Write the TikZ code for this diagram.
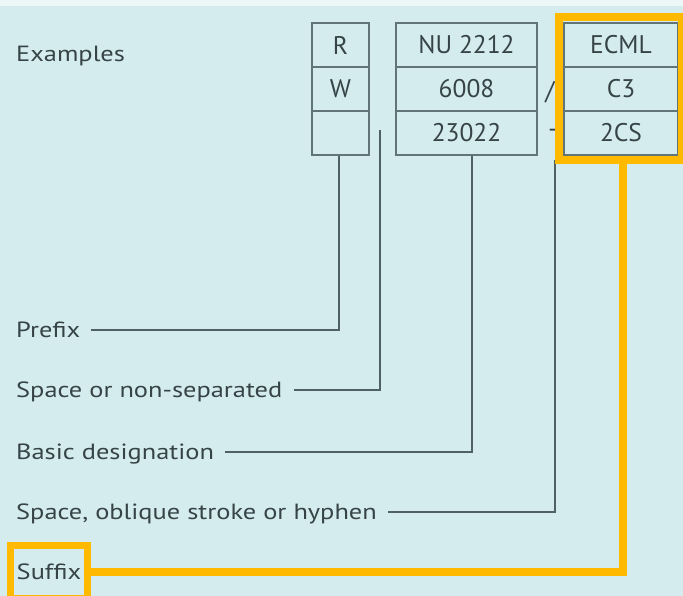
\documentclass[tikz,border=0pt]{standalone}
\usepackage{fontspec}
\setmainfont{PT Sans}[FakeStretch=1.2]
\newfontfamily\cellfont{PT Sans}
\definecolor{bg}{HTML}{D5ECEE}
\definecolor{topc}{HTML}{EEF7F8}
\definecolor{ink}{HTML}{364448}
\definecolor{ln}{HTML}{4F6165}
\definecolor{bx}{HTML}{617478}
\definecolor{skf}{HTML}{FFBA00}
\begin{document}
\begin{tikzpicture}[x=1pt,y=-1pt,
  cell/.style={draw=bx,line width=1.5pt,minimum height=44pt,inner sep=0pt,
    font=\cellfont\fontsize{25.5}{25.5}\selectfont,text=ink},
  lab/.style={anchor=base west,inner xsep=0pt,inner ysep=2pt,text height=15pt,text depth=0pt,
    font=\fontsize{22}{22}\selectfont,text=ink},
  conn/.style={draw=ln,line width=2pt},
  oline/.style={draw=skf,line width=8pt}]
\useasboundingbox (0,0) rectangle (683,596);
\fill[bg] (0,0) rectangle (683,596);
\fill[topc] (0,0) rectangle (683,6);
% boxes
\node[cell,minimum width=57pt] (r1) at (340.5,45) {R};
\node[cell,minimum width=57pt] (r2) at (340.5,89) {W};
\node[cell,minimum width=57pt] (r3) at (340.5,133) {};
\node[cell,minimum width=141pt] (b1) at (466.5,45) {NU 2212};
\node[cell,minimum width=141pt] (b2) at (466.5,89) {6008};
\node[cell,minimum width=141pt] (b3) at (466.5,133) {23022};
\node[cell,minimum width=114pt] (s1) at (621,45) {ECML};
\node[cell,minimum width=114pt] (s2) at (621,89) {C3};
\node[cell,minimum width=114pt] (s3) at (621,133) {2CS};
\node[font=\cellfont\fontsize{25.5}{25.5}\selectfont,text=ink] (slash) at (550,92) {/};
\node[font=\cellfont\fontsize{25.5}{25.5}\selectfont,text=ink] (dash) at (553,133) {-};
% labels
\node[lab] (ex) at (16,62) {Examples};
\node[lab] (pre) at (16,337) {Prefix};
\node[lab] (spc) at (16,397) {Space or non-separated};
\node[lab] (bas) at (16,459) {Basic designation};
\node[lab] (obl) at (16,519) {Space, oblique stroke or hyphen};
% connectors
\coordinate (sp) at (380,130);
\coordinate (hy) at (555,160);
\draw[conn] ([xshift=11pt]pre.east) -| ([xshift=-2pt]r3.south);
\draw[conn] ([xshift=11pt]spc.east) -| (sp);
\draw[conn] ([xshift=11pt]bas.east) -| ([xshift=5.5pt]b3.south);
\draw[conn] ([xshift=11pt]obl.east) -| (hy);
% orange highlight
\node[oline,minimum width=123pt,minimum height=143pt,inner sep=0pt] (frame) at (620.5,88.5) {};
\node[draw=skf,line width=7.5pt,minimum width=77pt,minimum height=53pt,inner sep=0pt,
  text height=15pt,text depth=0pt,font=\fontsize{22}{22}\selectfont,text=ink] (suf) at (49,572) {Suffix};
\draw[oline,line width=7.5pt] (suf.east) -| ([xshift=2.5pt]frame.south);
\end{tikzpicture}
\end{document}
